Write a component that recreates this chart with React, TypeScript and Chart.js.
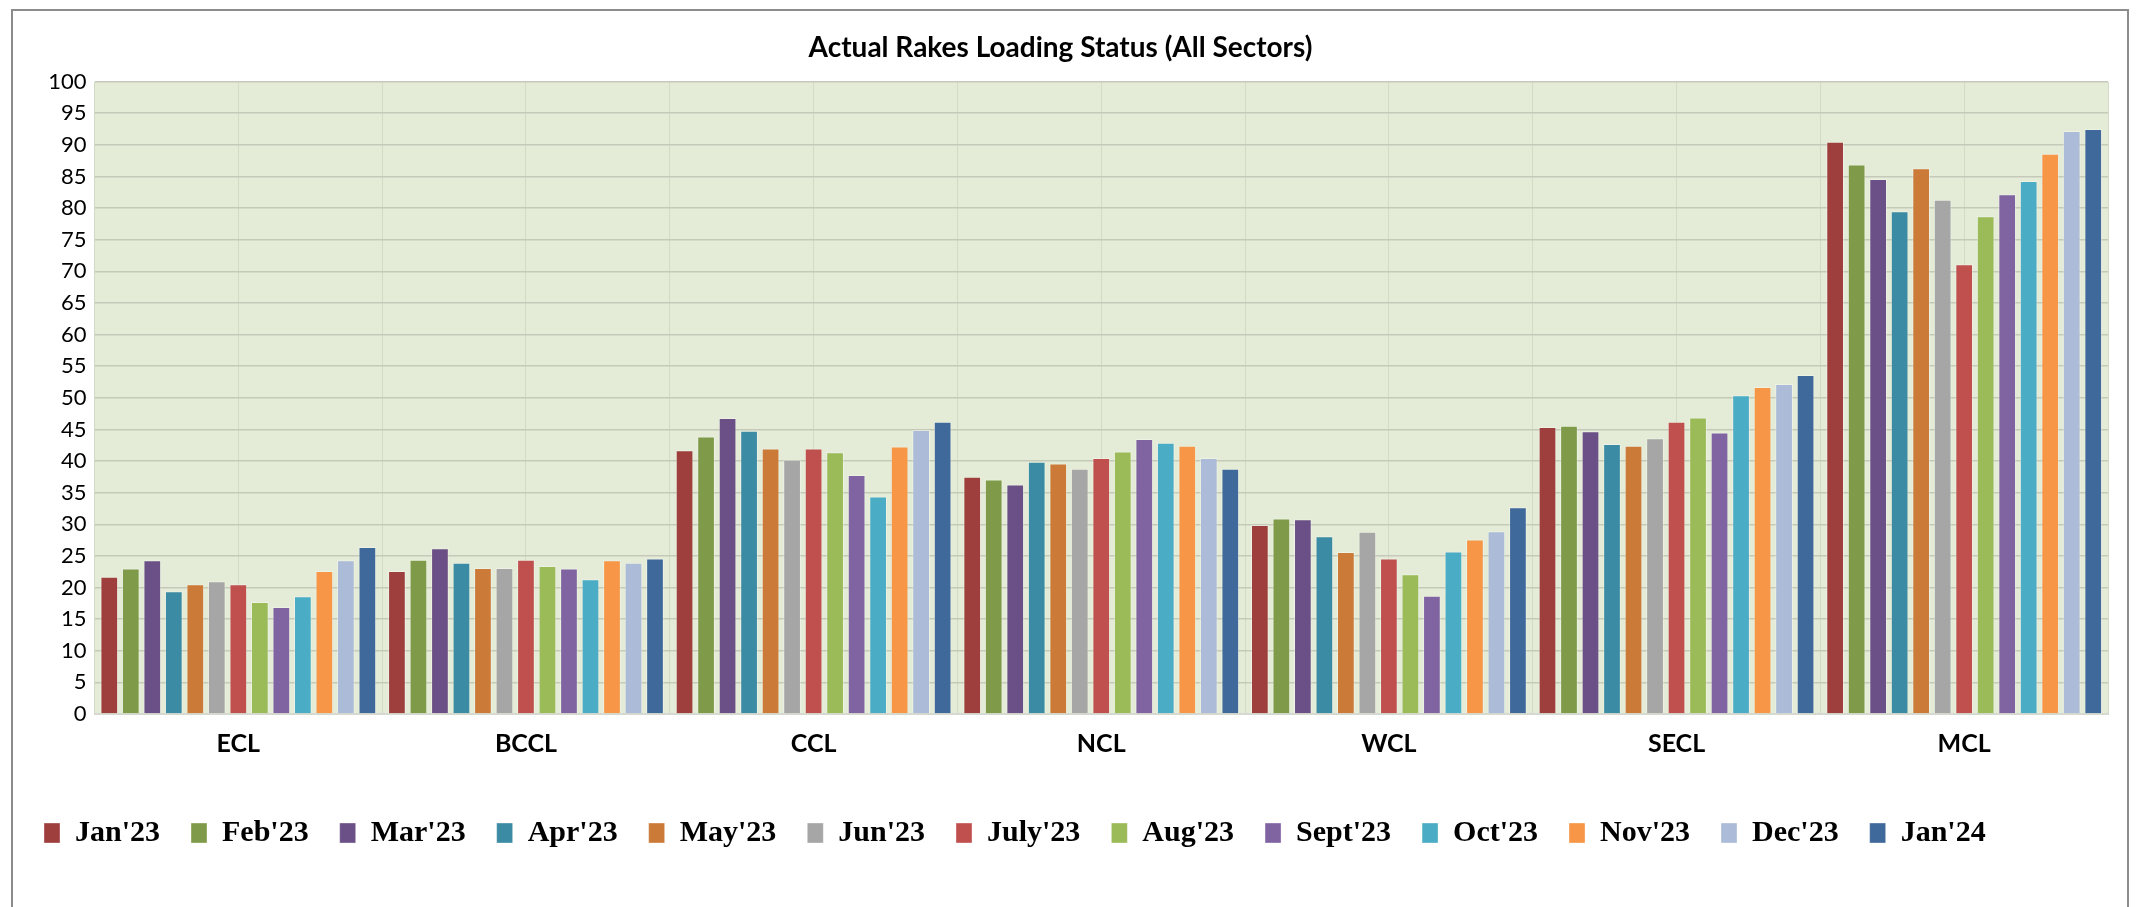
import React, { useEffect, useRef } from "react";
import { Chart, registerables } from "chart.js";

Chart.register(...registerables);

const categories = ["ECL", "BCCL", "CCL", "NCL", "WCL", "SECL", "MCL"];
const seriesLabels = ["Jan'23", "Feb'23", "Mar'23", "Apr'23", "May'23", "Jun'23", "July'23", "Aug'23", "Sept'23", "Oct'23", "Nov'23", "Dec'23", "Jan'24"];

const jan23 = [21.7, 22.6, 41.7, 37.5, 29.9, 45.4, 90.5];
const feb23 = [23.0, 24.4, 43.9, 37.1, 30.9, 45.6, 86.9];
const mar23 = [24.3, 26.2, 46.8, 36.3, 30.8, 44.7, 84.6];
const apr23 = [19.4, 23.9, 44.8, 39.9, 28.1, 42.7, 79.5];
const may23 = [20.5, 23.1, 42.0, 39.6, 25.6, 42.4, 86.3];
const jun23 = [21.0, 23.1, 40.2, 38.8, 28.8, 43.6, 81.3];
const jul23 = [20.5, 24.4, 42.0, 40.5, 24.6, 46.2, 71.1];
const aug23 = [17.7, 23.4, 41.4, 41.5, 22.1, 46.9, 78.7];
const sep23 = [16.9, 23.0, 37.8, 43.5, 18.7, 44.5, 82.2];
const oct23 = [18.6, 21.3, 34.4, 42.9, 25.7, 50.4, 84.3];
const nov23 = [22.6, 24.3, 42.3, 42.4, 27.6, 51.7, 88.6];
const dec23 = [24.3, 23.9, 44.9, 40.5, 28.9, 52.2, 92.2];
const jan24 = [26.4, 24.6, 46.2, 38.8, 32.7, 53.6, 92.5];

const seriesValues = [jan23, feb23, mar23, apr23, may23, jun23, jul23, aug23, sep23, oct23, nov23, dec23, jan24];
const seriesColors = ["#9e3f3e", "#7f9a48", "#6a5086", "#3b8ba4", "#cb7a38", "#a6a6a6", "#c0504e", "#9bbb59", "#8064a2", "#4bacc6", "#f79646", "#abbbd8", "#3f699b"];

const plotBg = {
  id: "plotBg",
  beforeDraw(chart: any) {
    const { ctx, chartArea } = chart;
    ctx.save();
    ctx.fillStyle = "#e4ecd7";
    ctx.fillRect(chartArea.left, chartArea.top, chartArea.right - chartArea.left, chartArea.bottom - chartArea.top);
    ctx.restore();
  },
};

export default function App() {
  const ref = useRef<HTMLCanvasElement | null>(null);
  useEffect(() => {
    document.documentElement.style.overflow = "hidden";
    document.body.style.overflow = "hidden";
    if (!ref.current) return;
    const chart = new Chart(ref.current, {
      type: "bar",
      data: {
        labels: categories,
        datasets: seriesLabels.map((label, i) => ({
          label,
          data: seriesValues[i],
          backgroundColor: seriesColors[i],
          borderColor: "rgba(255,255,255,0.35)",
          borderWidth: 1,
          categoryPercentage: 0.972,
          barPercentage: 0.823,
          xAxisID: "x",
        })),
      },
      options: {
        responsive: false,
        animation: false,
        layout: { padding: { left: 0, right: 19, top: 0, bottom: 0 } },
        plugins: {
          title: {
            display: true,
            text: "Actual Rakes Loading Status (All Sectors)",
            color: "#000",
            font: { family: "Lato, 'Open Sans', sans-serif", size: 28, weight: "bold" },
            padding: { top: 20, bottom: 17 },
          },
          legend: {
            position: "bottom",
            align: "start",
            labels: {
              color: "#000",
              boxWidth: 16,
              boxHeight: 20,
              padding: 31,
              font: { family: "'Liberation Serif', 'Times New Roman', serif", size: 30, weight: "bold" },
            },
          },
          tooltip: { enabled: false },
        },
        scales: {
          x: {
            type: "category",
            position: "bottom",
            offset: true,
            grid: { display: false, drawTicks: false },
            border: { display: true, color: "#d6d9cf", width: 2 },
            ticks: {
              color: "#000",
              padding: 15,
              font: { family: "Lato, 'Open Sans', sans-serif", size: 25, weight: "bold" },
            },
            afterFit: (s: any) => { s.height = 73; },
          },
          x2: {
            type: "linear",
            position: "top",
            min: 0,
            max: 7,
            offset: false,
            grid: { display: true, offset: false, color: "#d3dac7", lineWidth: 1, drawTicks: false },
            border: { display: false },
            ticks: { display: false, stepSize: 0.5, count: 15 },
            afterFit: (s: any) => { s.height = 0; },
          },
          y: {
            min: 0,
            max: 100,
            grid: { color: "#c5c9ba", lineWidth: 1.5, drawTicks: false },
            border: { display: false },
            ticks: {
              stepSize: 5,
              color: "#000",
              padding: 8,
              font: { family: "Lato, 'Open Sans', sans-serif", size: 22 },
            },
            afterFit: (s: any) => { s.width = 81.5; },
          },
        },
      } as any,
      plugins: [plotBg],
    });
    return () => chart.destroy();
  }, []);
  return (
    <div
      style={{
        marginLeft: 3,
        marginTop: 1,
        width: 2118,
        height: 960,
        boxSizing: "border-box",
        border: "2px solid #8c8c8c",
        background: "#fff",
      }}
    >
      <canvas ref={ref} width={2114} height={847} style={{ display: "block", width: 2114, height: 847 }} />
    </div>
  );
}
